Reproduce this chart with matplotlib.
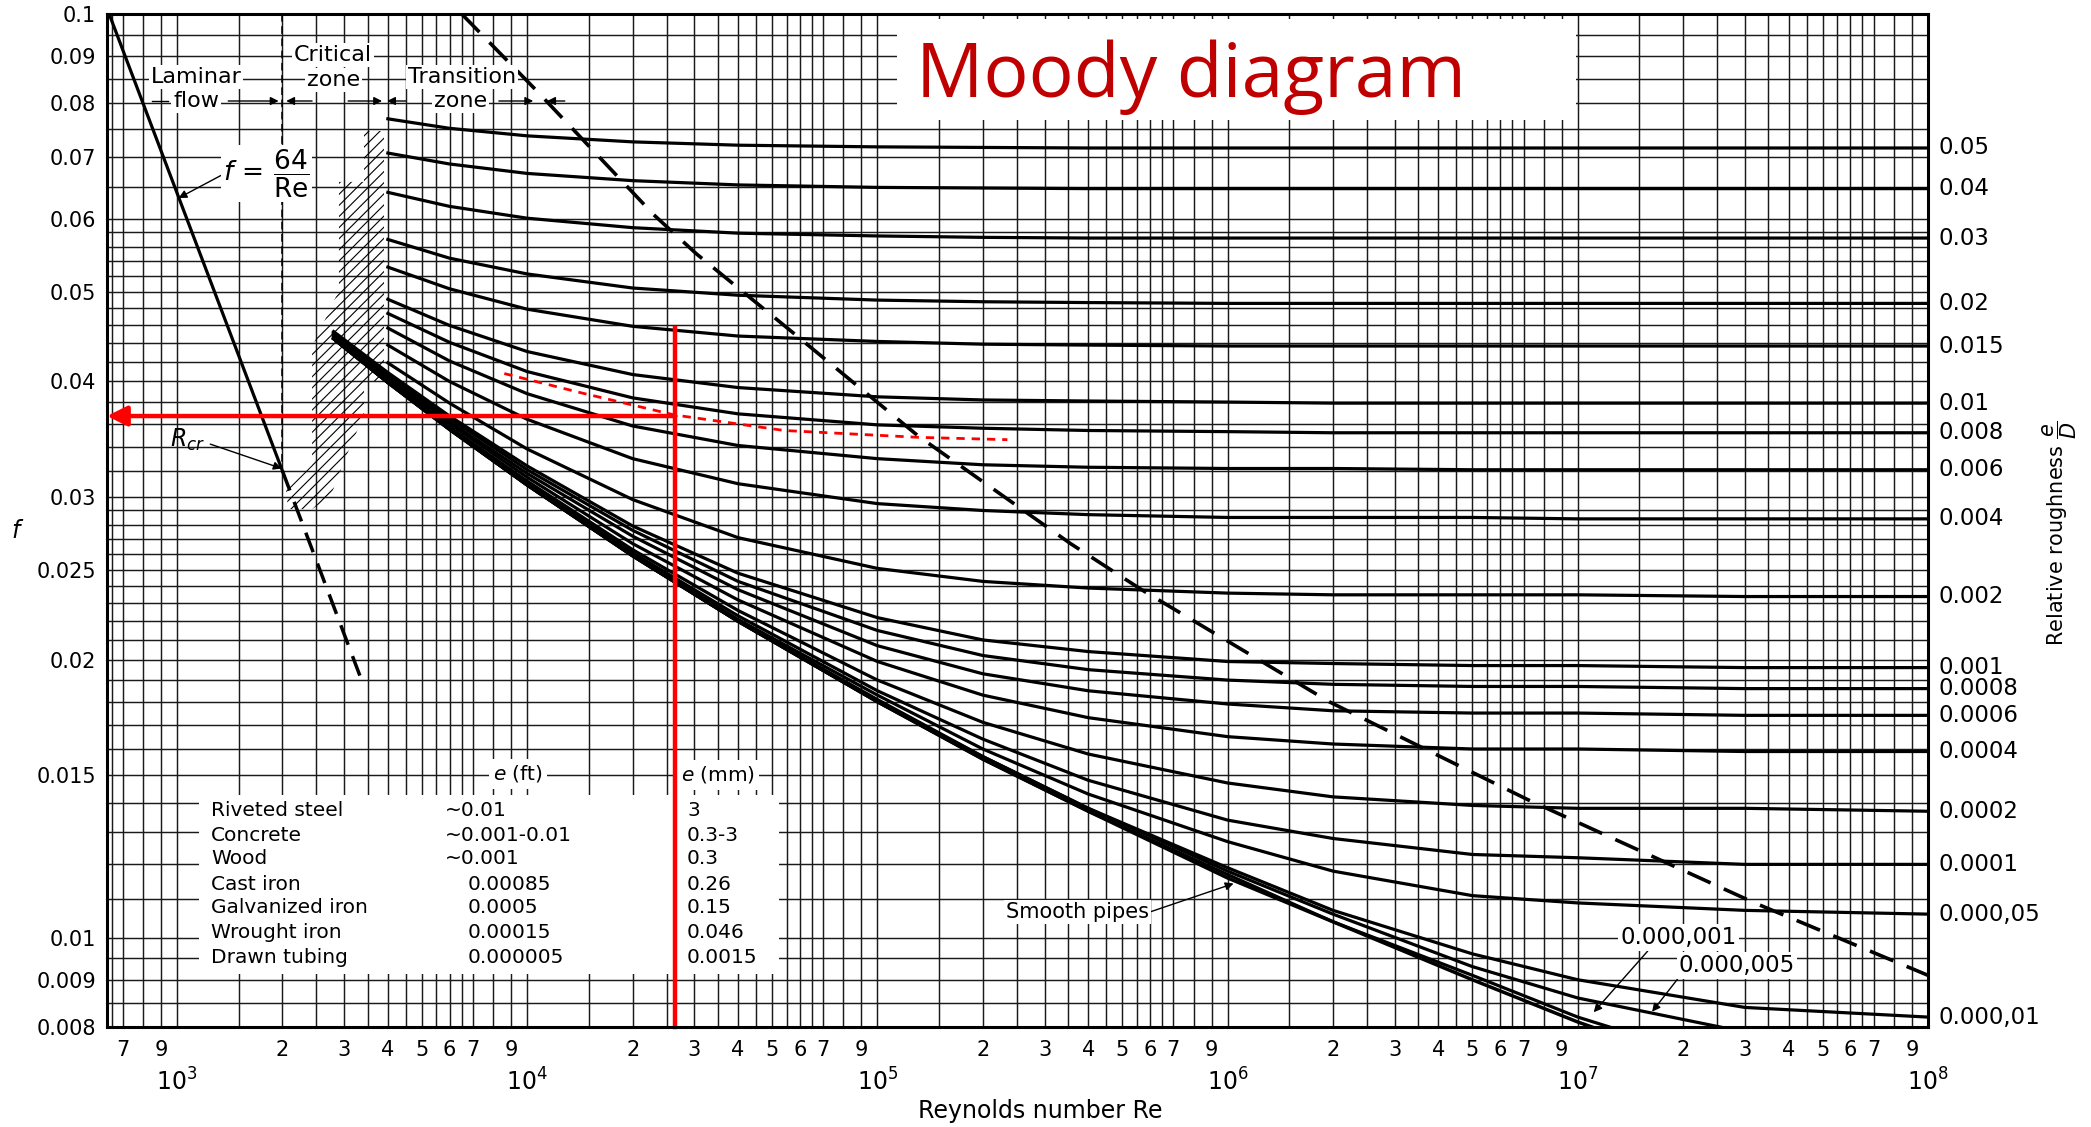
import numpy as np
import matplotlib.pyplot as plt
from matplotlib.patches import Rectangle
from matplotlib.ticker import NullLocator

plt.rcParams['font.family'] = ['DejaVu Sans']
plt.rcParams['hatch.linewidth'] = 0.8

nan = np.nan

re_points = [2.8e3, 4e3, 6e3, 1e4, 2e4, 4e4, 1e5, 2e5, 4e5, 1e6, 2e6, 5e6, 1e7, 3e7, 1e8]

# relative roughness curves (labelled on the right edge)
rough_labels = ['0.05', '0.04', '0.03', '0.02', '0.015', '0.01', '0.008', '0.006', '0.004',
                '0.002', '0.001', '0.0008', '0.0006', '0.0004', '0.0002', '0.0001',
                '0.000,05', '0.000,01']
f_rough = [
    [nan, 0.0770, 0.0752, 0.0738, 0.0727, 0.0721, 0.0718, 0.0717, 0.0716, 0.0716, 0.0716, 0.0716, 0.0716, 0.0716, 0.0716],
    [nan, 0.0707, 0.0688, 0.0672, 0.0660, 0.0653, 0.0649, 0.0648, 0.0647, 0.0647, 0.0647, 0.0647, 0.0647, 0.0647, 0.0647],
    [nan, 0.0641, 0.0619, 0.0601, 0.0587, 0.0579, 0.0575, 0.0573, 0.0572, 0.0572, 0.0572, 0.0572, 0.0572, 0.0572, 0.0572],
    [nan, 0.0570, 0.0544, 0.0523, 0.0505, 0.0496, 0.0490, 0.0488, 0.0487, 0.0486, 0.0486, 0.0486, 0.0486, 0.0486, 0.0486],
    [nan, 0.0532, 0.0504, 0.0479, 0.0459, 0.0448, 0.0442, 0.0439, 0.0438, 0.0437, 0.0437, 0.0437, 0.0437, 0.0437, 0.0437],
    [nan, 0.0491, 0.0460, 0.0431, 0.0407, 0.0394, 0.0385, 0.0382, 0.0381, 0.0380, 0.0379, 0.0379, 0.0379, 0.0379, 0.0379],
    [nan, 0.0474, 0.0441, 0.0410, 0.0384, 0.0369, 0.0359, 0.0356, 0.0354, 0.0353, 0.0352, 0.0352, 0.0352, 0.0352, 0.0352],
    [nan, 0.0457, 0.0421, 0.0388, 0.0358, 0.0341, 0.0330, 0.0325, 0.0323, 0.0322, 0.0322, 0.0321, 0.0321, 0.0321, 0.0321],
    [nan, 0.0438, 0.0400, 0.0364, 0.0330, 0.0310, 0.0295, 0.0290, 0.0287, 0.0285, 0.0285, 0.0285, 0.0284, 0.0284, 0.0284],
    [nan, 0.0419, 0.0379, 0.0338, 0.0298, 0.0271, 0.0251, 0.0243, 0.0239, 0.0236, 0.0235, 0.0235, 0.0235, 0.0234, 0.0234],
    [0.0453, 0.0409, 0.0367, 0.0324, 0.0279, 0.0248, 0.0222, 0.0210, 0.0204, 0.0199, 0.0198, 0.0197, 0.0197, 0.0196, 0.0196],
    [0.0452, 0.0407, 0.0365, 0.0321, 0.0276, 0.0243, 0.0215, 0.0202, 0.0195, 0.0190, 0.0188, 0.0187, 0.0187, 0.0186, 0.0186],
    [0.0451, 0.0405, 0.0362, 0.0318, 0.0272, 0.0238, 0.0207, 0.0193, 0.0185, 0.0179, 0.0176, 0.0175, 0.0175, 0.0174, 0.0174],
    [0.0450, 0.0403, 0.0360, 0.0315, 0.0267, 0.0232, 0.0199, 0.0183, 0.0173, 0.0165, 0.0162, 0.0160, 0.0160, 0.0159, 0.0159],
    [0.0448, 0.0401, 0.0357, 0.0312, 0.0263, 0.0226, 0.0190, 0.0171, 0.0158, 0.0147, 0.0142, 0.0139, 0.0138, 0.0138, 0.0137],
    [0.0447, 0.0400, 0.0356, 0.0310, 0.0261, 0.0223, 0.0185, 0.0164, 0.0148, 0.0134, 0.0128, 0.0123, 0.0122, 0.0120, 0.0120],
    [0.0446, 0.0400, 0.0356, 0.0310, 0.0260, 0.0221, 0.0183, 0.0160, 0.0143, 0.0127, 0.0118, 0.0111, 0.0109, 0.0107, 0.0106],
    [0.0445, 0.0399, 0.0355, 0.0309, 0.0259, 0.0220, 0.0181, 0.0157, 0.0138, 0.0119, 0.0107, 0.0096, 0.0090, 0.0084, 0.0082],
]
# the two finest roughnesses, labelled inside the plot
fine_labels = ['0.000,005', '0.000,001']
f_fine = [
    [0.0445, 0.0399, 0.0355, 0.0309, 0.0259, 0.0220, 0.0180, 0.0157, 0.0138, 0.0118, 0.0106, 0.0093, 0.0086, 0.0079, 0.0075],
    [0.0445, 0.0399, 0.0355, 0.0309, 0.0259, 0.0220, 0.0180, 0.0156, 0.0137, 0.0117, 0.0104, 0.0091, 0.0082, 0.0072, nan],
]
f_smooth = [0.0445, 0.0399, 0.0355, 0.0309, 0.0259, 0.0220, 0.0180, 0.0156, 0.0137, 0.0116, 0.0104, 0.0090, 0.0081, 0.0070, nan]

# laminar flow f = 64/Re and its dashed extension past R_cr
laminar_re = [640, 2000]
laminar_f = [0.1, 0.032]
laminar_ext_re = [2000, 3400]
laminar_ext_f = [0.032, 0.0188]

# dashed boundary of complete turbulence
boundary_re = [6500, 1.06e4, 2.3e4, 3.04e4, 5.57e4, 1.31e5, 3.56e5, 5.68e5, 1.95e6, 7.2e6, 3.2e7, 1e8]
boundary_f = [0.1, 0.0827, 0.0606, 0.0550, 0.0456, 0.0349, 0.0267, 0.0238, 0.0180, 0.0141, 0.0109, 0.0091]

# hatched critical zone
crit_re = [2900, 3420, 3420, 3000, 2740, 2430, 2075, 2050, 2430, 2430, 2900]
crit_f = [0.0658, 0.0658, 0.0368, 0.0328, 0.0300, 0.0291, 0.0291, 0.0305, 0.0325, 0.0436, 0.0502]
crit_strip_re = [3420, 3900, 3900, 3420]
crit_strip_f = [0.0747, 0.0747, 0.0400, 0.0400]

# red reading example
red_re = 2.65e4
red_f = 0.0367
red_top_f = 0.0457
red_dash_re = [8600, 14200, 26300, 54200, 1.31e5, 2.35e5]
red_dash_f = [0.0408, 0.0389, 0.0368, 0.0354, 0.0348, 0.0346]

# roughness table
materials = ['Riveted steel', 'Concrete', 'Wood', 'Cast iron', 'Galvanized iron', 'Wrought iron', 'Drawn tubing']
e_ft = ['\u223c0.01', '\u223c0.001-0.01', '\u223c0.001', '0.00085', '0.0005', '0.00015', '0.000005']
e_mm = ['3', '0.3-3', '0.3', '0.26', '0.15', '0.046', '0.0015']

y_ticks = [0.1, 0.09, 0.08, 0.07, 0.06, 0.05, 0.04, 0.03, 0.025, 0.02, 0.015, 0.01, 0.009, 0.008]

XMIN, XMAX = 10 ** 2.8, 1e8
YMIN, YMAX = 0.008, 0.1

fig = plt.figure(figsize=(20.91, 11.27), dpi=100)
ax = fig.add_axes([107 / 2091, 100 / 1127, 1821 / 2091, 1013 / 1127])
ax.set_xscale('log')
ax.set_yscale('log')
ax.set_xlim(XMIN, XMAX)
ax.set_ylim(YMIN, YMAX)

# dense chart-paper grid
grid_c = '#1a1a1a'
for d in range(2, 8):
    for m in [1, 1.5, 2, 2.5, 3, 3.5, 4, 4.5, 5, 5.5, 6, 6.5, 7, 8, 9]:
        x = m * 10 ** d
        if XMIN < x < XMAX:
            ax.axvline(x, color=grid_c, lw=1.05, zorder=1)
y_grid = np.concatenate([np.arange(0.0085, 0.00999, 0.0005), np.arange(0.01, 0.02999, 0.001),
                         np.arange(0.03, 0.05999, 0.002), np.arange(0.06, 0.0999, 0.005)])
for y in y_grid:
    ax.axhline(y, color=grid_c, lw=1.05, zorder=1)
for s in ax.spines.values():
    s.set_linewidth(2.2)
    s.set_zorder(6)

# white panels (title and table)
ax.add_patch(Rectangle((0.4338, 0.8954), 0.3729, 0.0996, transform=ax.transAxes,
                       facecolor='white', edgecolor='none', zorder=2))
ax.add_patch(Rectangle((0.0505, 0.0523), 0.3185, 0.1767, transform=ax.transAxes,
                       facecolor='white', edgecolor='none', zorder=2))

# curves
for row in f_rough:
    ax.plot(re_points, row, color='black', lw=2.3, zorder=3)
for row in f_fine:
    ax.plot(re_points, row, color='black', lw=2.3, zorder=3)
ax.plot(re_points, f_smooth, color='black', lw=2.5, zorder=3)

ax.plot(laminar_re, laminar_f, color='black', lw=2.3, zorder=3)
ax.plot(laminar_ext_re, laminar_ext_f, color='black', lw=2.5, dashes=(6, 3.5), zorder=3)
ax.plot([2000, 2000], [YMAX, 0.032], color='black', lw=1.1, dashes=(5, 3), zorder=3)
ax.plot(boundary_re, boundary_f, color='black', lw=2.6, dashes=(7, 4), zorder=3)

ax.fill(crit_re, crit_f, facecolor='none', edgecolor='black', lw=0, hatch='///', zorder=2.5)
ax.fill(crit_strip_re, crit_strip_f, facecolor='none', edgecolor='black', lw=0, hatch='///', zorder=2.5)

# right-hand roughness labels
ytr = ax.get_yaxis_transform()
for lab, row in zip(rough_labels, f_rough):
    ax.text(1.006, row[-1], lab, transform=ytr, fontsize=16.5, va='center', ha='left')
fig.text(2060 / 2091, 1 - 533 / 1127, r'Relative roughness $\dfrac{e}{D}$', rotation=90,
         ha='center', va='center', fontsize=15)

# inside labels
wbox = dict(facecolor='white', edgecolor='none', pad=1.5)
arr = dict(arrowstyle='-|>', color='black', lw=1.0, mutation_scale=12, shrinkA=0, shrinkB=0)
zfs = 16
ax.text(1133, 0.0855, 'Laminar', fontsize=zfs, ha='center', va='center', bbox=wbox, zorder=4)
ax.text(1133, 0.0805, 'flow', fontsize=zfs, ha='center', va='center', bbox=wbox, zorder=4)
ax.text(2790, 0.0903, 'Critical', fontsize=zfs, ha='center', va='center', bbox=wbox, zorder=4)
ax.text(2790, 0.0848, 'zone', fontsize=zfs, ha='center', va='center', bbox=wbox, zorder=4)
ax.text(6520, 0.0855, 'Transition', fontsize=zfs, ha='center', va='center', bbox=wbox, zorder=4)
ax.text(6430, 0.0805, 'zone', fontsize=zfs, ha='center', va='center', bbox=wbox, zorder=4)
ax.plot([850, 940], [0.0805, 0.0805], color='black', lw=1.0, zorder=4)
ax.annotate('', xy=(1950, 0.0805), xytext=(1400, 0.0805), arrowprops=arr, zorder=4)
ax.annotate('', xy=(2050, 0.0805), xytext=(2430, 0.0805), arrowprops=arr, zorder=4)
ax.annotate('', xy=(3850, 0.0805), xytext=(3080, 0.0805), arrowprops=arr, zorder=4)
ax.annotate('', xy=(3980, 0.0805), xytext=(4500, 0.0805), arrowprops=arr, zorder=4)
ax.annotate('', xy=(10400, 0.0805), xytext=(8300, 0.0805), arrowprops=arr, zorder=4)
ax.annotate('', xy=(11400, 0.0805), xytext=(12800, 0.0805), arrowprops=arr, zorder=4)

ax.annotate(r'$f\,=\,\dfrac{64}{\mathrm{Re}}$', xy=(1010, 0.0632), xytext=(1800, 0.0672),
            fontsize=19, ha='center', va='center', zorder=4, bbox=wbox,
            arrowprops=dict(arrowstyle='-|>', color='black', lw=1.0, mutation_scale=12,
                            shrinkA=0, shrinkB=0, relpos=(0.02, 0.5)))
ax.annotate(r'$R_{cr}$', xy=(1990, 0.0322), xytext=(1070, 0.0346), fontsize=17,
            ha='center', va='center', zorder=4,
            arrowprops=dict(arrowstyle='-|>', color='black', lw=1.0, mutation_scale=12,
                            shrinkA=2, shrinkB=0, relpos=(1.0, 0.4)))
ax.annotate('Smooth pipes', xy=(1.04e6, 0.01144), xytext=(3.73e5, 0.01065), fontsize=15,
            ha='center', va='center', zorder=4, bbox=wbox,
            arrowprops=dict(arrowstyle='-|>', color='black', lw=1.0, mutation_scale=12,
                            shrinkA=0, shrinkB=0, relpos=(1.0, 0.5)))
ax.annotate(fine_labels[1], xy=(1.11e7, 0.0083), xytext=(1.94e7, 0.0100), fontsize=16.5,
            ha='center', va='center', zorder=4, bbox=wbox,
            arrowprops=dict(arrowstyle='-|>', color='black', lw=1.0, mutation_scale=12,
                            shrinkA=0, shrinkB=0, relpos=(0.25, 0.0)))
ax.annotate(fine_labels[0], xy=(1.63e7, 0.00831), xytext=(2.85e7, 0.00932), fontsize=16.5,
            ha='center', va='center', zorder=4, bbox=wbox,
            arrowprops=dict(arrowstyle='-|>', color='black', lw=1.0, mutation_scale=12,
                            shrinkA=0, shrinkB=0, relpos=(0.0, 0.0)))

# table
tfs = 14.5
ax.text(0.2257, 0.2498, r'$e$ (ft)', transform=ax.transAxes, fontsize=tfs, ha='center',
        va='center', bbox=dict(facecolor='white', edgecolor='none', pad=3), zorder=4)
ax.text(0.315, 0.2488, r'$e$ (mm)', transform=ax.transAxes, fontsize=tfs, ha='left',
        va='center', bbox=dict(facecolor='white', edgecolor='none', pad=3), zorder=4)
row_y = [0.2142, 0.1895, 0.1668, 0.1411, 0.1175, 0.0928, 0.0691]
for yy, name, ft, mm in zip(row_y, materials, e_ft, e_mm):
    ax.text(0.0571, yy, name, transform=ax.transAxes, fontsize=tfs, va='center', zorder=4)
    x_ft = 0.1856 if ft.startswith('\u223c') else 0.1982
    ax.text(x_ft, yy, ft, transform=ax.transAxes, fontsize=tfs, va='center', zorder=4)
    ax.text(0.3185, yy, mm, transform=ax.transAxes, fontsize=tfs, va='center', zorder=4)

# red reading lines
ax.annotate('', xy=(XMIN, red_f), xytext=(red_re, red_f),
            arrowprops=dict(arrowstyle='-|>', color='#ff0000', lw=3.2, mutation_scale=30,
                            shrinkA=0, shrinkB=0), zorder=5)
ax.plot([red_re, red_re], [YMIN, red_top_f], color='#ff0000', lw=3.2, zorder=5, clip_on=False)
ax.plot(red_dash_re, red_dash_f, color='#ff0000', lw=2.0, dashes=(3, 2.5), zorder=5)

# title
ax.text(0.4443, 0.918, 'Moody diagram', transform=ax.transAxes, fontsize=54,
        color='#c00000', family='Open Sans', va='baseline', ha='left', zorder=4)

# ticks
ax.tick_params(which='both', length=0, labelsize=15)
ax.set_xticks([1e3, 1e4, 1e5, 1e6, 1e7, 1e8], [r'$10^{%d}$' % d for d in range(3, 9)])
minor_x, minor_lab = [], []
for d in range(2, 8):
    for m in [2, 3, 4, 5, 6, 7, 9]:
        v = m * 10 ** d
        if v > XMIN:
            minor_x.append(v)
            minor_lab.append(str(m))
ax.set_xticks(minor_x, minor_lab, minor=True)
ax.tick_params(axis='x', which='major', pad=30, labelsize=17)
ax.tick_params(axis='x', which='minor', pad=9)
ax.set_yticks(y_ticks, [str(v) for v in y_ticks])
ax.yaxis.set_minor_locator(NullLocator())
ax.tick_params(axis='y', pad=8)

fig.text(1040 / 2091, 1 - 1111 / 1127, 'Reynolds number Re', ha='center', va='center', fontsize=17)
fig.text(16 / 2091, 1 - 531 / 1127, 'f', ha='center', va='center', fontsize=17, style='italic')

fig.savefig('out.png', dpi=100, facecolor='white')
